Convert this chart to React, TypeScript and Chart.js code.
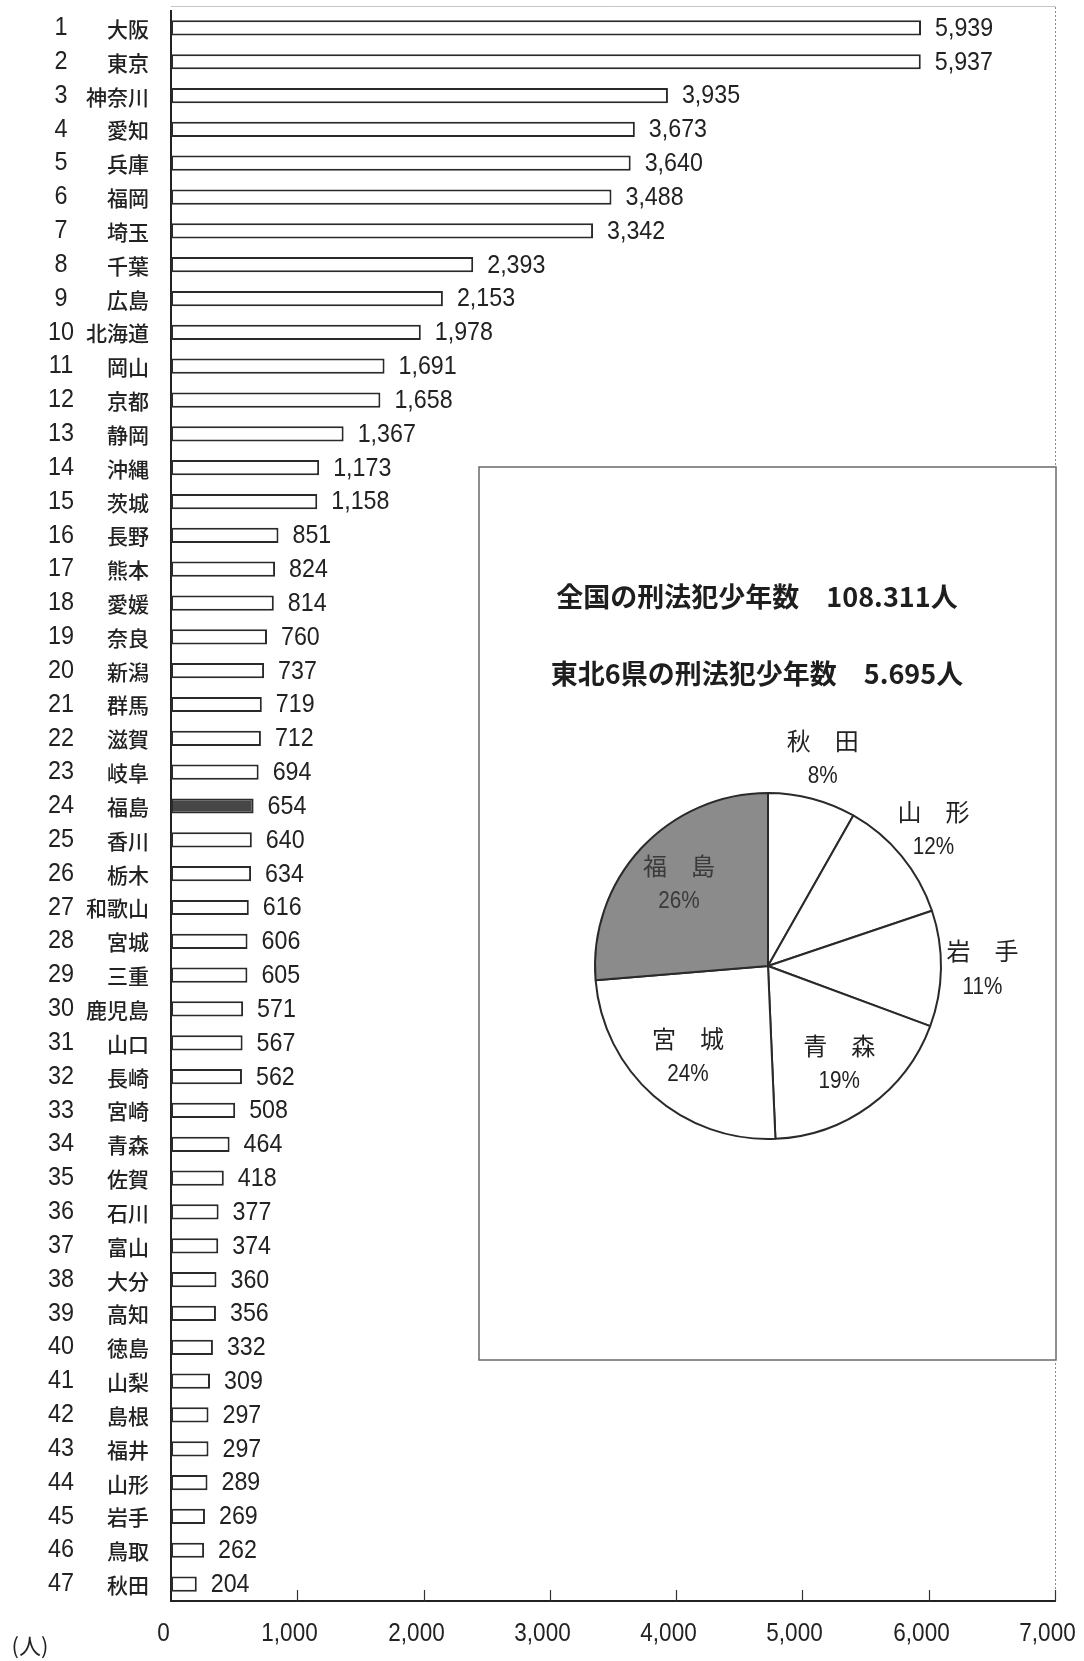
import React, { useEffect, useRef } from "react";
import { Chart, registerables } from "chart.js";

Chart.register(...registerables);

// 都道府県別 刑法犯少年数（多い順）
const prefectures = [
  "大阪", "東京", "神奈川", "愛知", "兵庫", "福岡", "埼玉", "千葉", "広島", "北海道",
  "岡山", "京都", "静岡", "沖縄", "茨城", "長野", "熊本", "愛媛", "奈良", "新潟",
  "群馬", "滋賀", "岐阜", "福島", "香川", "栃木", "和歌山", "宮城", "三重", "鹿児島",
  "山口", "長崎", "宮崎", "青森", "佐賀", "石川", "富山", "大分", "高知", "徳島",
  "山梨", "島根", "福井", "山形", "岩手", "鳥取", "秋田",
];
const counts = [
  5939, 5937, 3935, 3673, 3640, 3488, 3342, 2393, 2153, 1978,
  1691, 1658, 1367, 1173, 1158, 851, 824, 814, 760, 737,
  719, 712, 694, 654, 640, 634, 616, 606, 605, 571,
  567, 562, 508, 464, 418, 377, 374, 360, 356, 332,
  309, 297, 297, 289, 269, 262, 204,
];
const xTicks = [0, 1000, 2000, 3000, 4000, 5000, 6000, 7000];
const unitLabel = "(人)";

// 東北6県（円グラフの並び順）
const tohokuPrefs = ["秋田", "山形", "岩手", "青森", "宮城", "福島"];
const highlightPref = "福島";
const headlines = [
  "全国の刑法犯少年数　108.311人",
  "東北6県の刑法犯少年数　5.695人",
];

const JP = '"Noto Sans CJK JP", "Noto Sans", sans-serif';
const LAT = '"Liberation Sans", Arial, sans-serif';
const INK = "#222222";

const W = 1084;
const H = 1661;
const BOX = { left: 478, top: 466, width: 579, height: 895 };

// narrow-looking numerals: squeeze text horizontally around its anchor
function fillNarrow(ctx: CanvasRenderingContext2D, text: string, x: number, y: number, sx: number) {
  ctx.save();
  ctx.translate(x, y);
  ctx.scale(sx, 1);
  ctx.fillText(text, 0, 0);
  ctx.restore();
}

const barLabels = {
  id: "barLabels",
  afterDatasetsDraw(chart: any) {
    const { ctx, chartArea } = chart;
    const meta = chart.getDatasetMeta(0);
    ctx.save();
    ctx.fillStyle = INK;
    ctx.textBaseline = "middle";
    meta.data.forEach((bar: any, i: number) => {
      const { x, y } = bar.getProps(["x", "y"], true);
      ctx.textAlign = "left";
      ctx.font = `25px ${LAT}`;
      fillNarrow(ctx, counts[i].toLocaleString("en-US"), x + 14, y + 1, 0.93);
      ctx.textAlign = "center";
      ctx.font = `26px ${LAT}`;
      fillNarrow(ctx, String(i + 1), chartArea.left - 110, y, 0.9);
      ctx.textAlign = "right";
      ctx.font = `500 21px ${JP}`;
      ctx.fillText(prefectures[i], chartArea.left - 22, y + 1);
    });
    ctx.restore();
  },
  afterDraw(chart: any) {
    const { ctx, chartArea } = chart;
    const xs = chart.scales.x;
    ctx.save();
    // frame: faint top and right edges
    ctx.strokeStyle = "#c4c4c4";
    ctx.lineWidth = 1;
    ctx.beginPath();
    ctx.moveTo(chartArea.left, chartArea.top - 4.5);
    ctx.lineTo(chartArea.right + 0.5, chartArea.top - 4.5);
    ctx.stroke();
    ctx.setLineDash([2, 2]);
    ctx.strokeStyle = "#8a8a8a";
    ctx.beginPath();
    ctx.moveTo(chartArea.right + 0.5, chartArea.top - 4);
    ctx.lineTo(chartArea.right + 0.5, chartArea.bottom);
    ctx.stroke();
    ctx.setLineDash([]);
    // inward tick marks and labels on the value axis
    ctx.strokeStyle = "#333";
    ctx.lineWidth = 1.2;
    ctx.fillStyle = INK;
    ctx.font = `25px ${LAT}`;
    ctx.textAlign = "center";
    ctx.textBaseline = "middle";
    xTicks.forEach((v) => {
      const px = Math.round(xs.getPixelForValue(v)) + 0.5;
      if (v !== 0) {
        ctx.beginPath();
        ctx.moveTo(px, chartArea.bottom);
        ctx.lineTo(px, chartArea.bottom - 11);
        ctx.stroke();
      }
      fillNarrow(ctx, v.toLocaleString("en-US"), px - 8, chartArea.bottom + 33, 0.9);
    });
    ctx.font = `22px ${JP}`;
    ctx.fillText(unitLabel, 30, 1646);
    ctx.restore();
  },
};

const pieDecor = {
  id: "pieDecor",
  beforeDraw(chart: any) {
    const { ctx, width, height } = chart;
    ctx.save();
    ctx.fillStyle = "#ffffff";
    ctx.fillRect(0, 0, width, height);
    ctx.strokeStyle = "#6a6a6a";
    ctx.lineWidth = 1.5;
    ctx.strokeRect(1, 1, width - 2, height - 2);
    ctx.fillStyle = "#1e1e1e";
    ctx.font = `bold 27px ${JP}`;
    ctx.textAlign = "center";
    ctx.textBaseline = "middle";
    ctx.fillText(headlines[0], 279, 131);
    ctx.fillText(headlines[1], 279, 208);
    ctx.restore();
  },
  afterDatasetsDraw(chart: any) {
    const { ctx } = chart;
    const meta = chart.getDatasetMeta(0);
    const data: number[] = chart.data.datasets[0].data;
    const total = data.reduce((a, b) => a + b, 0);
    ctx.save();
    ctx.textAlign = "center";
    ctx.textBaseline = "middle";
    meta.data.forEach((arc: any, i: number) => {
      const { x, y, startAngle, endAngle, outerRadius } = arc.getProps(
        ["x", "y", "startAngle", "endAngle", "outerRadius"],
        true
      );
      const pct = Math.round((data[i] / total) * 100);
      const mid = (startAngle + endAngle) / 2;
      const r = pct < 15 ? outerRadius * 1.24 : outerRadius * 0.7;
      const lx = x + Math.cos(mid) * r;
      const ly = y + Math.sin(mid) * r;
      ctx.fillStyle = tohokuPrefs[i] === highlightPref ? "#3a3a3a" : INK;
      ctx.font = `24px ${JP}`;
      ctx.fillText(tohokuPrefs[i].split("").join("　"), lx, ly - 18);
      ctx.font = `23px ${LAT}`;
      fillNarrow(ctx, `${pct}%`, lx, ly + 18, 0.9);
    });
    ctx.restore();
  },
};

export default function App() {
  const barRef = useRef<HTMLCanvasElement | null>(null);
  const pieRef = useRef<HTMLCanvasElement | null>(null);

  useEffect(() => {
    document.body.style.margin = "0";
    document.body.style.background = "#ffffff";
    if (!barRef.current || !pieRef.current) return;

    const bar = new Chart(barRef.current, {
      type: "bar",
      data: {
        labels: prefectures,
        datasets: [
          {
            data: counts,
            backgroundColor: prefectures.map((p) => (p === highlightPref ? "#474747" : "#ffffff")),
            borderColor: "#2a2a2a",
            borderWidth: 2,
            borderSkipped: false,
            categoryPercentage: 1,
            barPercentage: 0.45,
          },
        ],
      },
      options: {
        indexAxis: "y",
        responsive: false,
        animation: false,
        events: [],
        layout: { padding: { left: 0, top: 11, right: 29, bottom: 0 } },
        plugins: { legend: { display: false }, tooltip: { enabled: false } },
        scales: {
          x: {
            min: 0,
            max: 7000,
            ticks: { display: false },
            grid: { display: false, drawTicks: false },
            border: { display: true, color: "#222", width: 2 },
            afterFit: (s: any) => {
              s.height = 60;
            },
          },
          y: {
            ticks: { display: false },
            grid: { display: false, drawTicks: false },
            border: { display: true, color: "#222", width: 2 },
            afterFit: (s: any) => {
              s.width = 171;
            },
          },
        },
      },
      plugins: [barLabels],
    });

    const pieValues = tohokuPrefs.map((p) => counts[prefectures.indexOf(p)]);
    const cx = 290;
    const cy = 500;
    const side = 348;
    const pie = new Chart(pieRef.current, {
      type: "pie",
      data: {
        labels: tohokuPrefs,
        datasets: [
          {
            data: pieValues,
            backgroundColor: tohokuPrefs.map((p) => (p === highlightPref ? "#8b8b8b" : "#ffffff")),
            borderColor: "#2a2a2a",
            borderWidth: 2,
          },
        ],
      },
      options: {
        responsive: false,
        animation: false,
        events: [],
        layout: {
          padding: {
            left: cx - side / 2,
            top: cy - side / 2,
            right: BOX.width - (cx + side / 2),
            bottom: BOX.height - (cy + side / 2),
          },
        },
        plugins: { legend: { display: false }, tooltip: { enabled: false } },
      },
      plugins: [pieDecor],
    });

    return () => {
      bar.destroy();
      pie.destroy();
    };
  }, []);

  return (
    <div style={{ position: "relative", width: W, height: H, background: "#fff" }}>
      <canvas ref={barRef} width={W} height={H} style={{ position: "absolute", left: 0, top: 0 }} />
      <canvas
        ref={pieRef}
        width={BOX.width}
        height={BOX.height}
        style={{ position: "absolute", left: BOX.left, top: BOX.top }}
      />
    </div>
  );
}
